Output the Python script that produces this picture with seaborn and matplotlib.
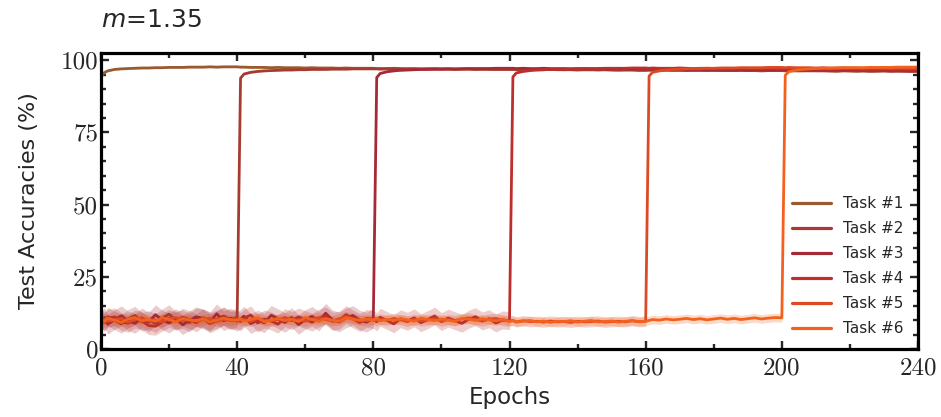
import numpy as np
import pandas as pd
import matplotlib
matplotlib.use("Agg")
import matplotlib.pyplot as plt
from matplotlib.lines import Line2D
from matplotlib.ticker import MultipleLocator
import seaborn as sns

# ---------------- data ----------------
TASKS = ["Task #1", "Task #2", "Task #3", "Task #4", "Task #5", "Task #6"]
TASK_START = [0, 40, 80, 120, 160, 200]
EPOCHS = sorted(set(range(0, 241, 2)) | {1, 41, 81, 121, 161, 201})

TASK1 = [94.3, 95.7, 96.3, 96.8, 97.0, 97.1, 97.2, 97.3, 97.3, 97.4, 97.4, 97.5, 97.5, 97.5, 97.6, 97.6, 97.6, 97.7, 97.6, 97.7, 97.7,
         97.7, 97.6, 97.6, 97.5, 97.5, 97.5, 97.4, 97.5, 97.4, 97.4, 97.4, 97.3, 97.4, 97.3, 97.3, 97.3, 97.2, 97.3, 97.2, 97.2, 97.2,
         97.2, 97.1, 97.1, 97.1, 97.2, 97.1, 97.0, 97.1, 97.0, 97.0, 97.1, 97.0, 97.0, 96.9, 97.0, 97.0, 96.9, 96.9, 97.0, 96.9, 96.9,
         96.9, 96.9, 96.8, 96.9, 96.8, 96.8, 96.9, 96.8, 96.8, 96.7, 96.8, 96.8, 96.7, 96.7, 96.8, 96.7, 96.7, 96.6, 96.7, 96.7, 96.6,
         96.6, 96.6, 96.7, 96.6, 96.6, 96.5, 96.6, 96.6, 96.5, 96.5, 96.6, 96.5, 96.5, 96.5, 96.4, 96.5, 96.5, 96.4, 96.5, 96.4, 96.4,
         96.4, 96.4, 96.5, 96.4, 96.4, 96.3, 96.4, 96.4, 96.3, 96.3, 96.4, 96.3, 96.3, 96.3, 96.2, 96.3, 96.3, 96.2, 96.3, 96.2, 96.2,
         96.2]
TASK2 = [10.8, 9.6, 11.2, 9.9, 8.7, 10.5, 11.6, 9.4, 10.1, 8.9, 10.7, 12.1, 9.8, 10.3, 9.2, 11.0, 10.6, 8.8, 9.9, 11.4, 10.2,
         10.9, 93.8, 95.2, 95.8, 96.1, 96.3, 96.4, 96.5, 96.6, 96.6, 96.7, 96.7, 96.8, 96.8, 96.8, 96.9, 96.9, 96.9, 97.0, 97.0, 97.0,
         97.0, 97.0, 96.9, 97.0, 97.0, 96.9, 97.0, 96.9, 96.9, 97.0, 96.9, 96.9, 96.9, 96.8, 96.9, 96.9, 96.8, 96.9, 96.8, 96.8, 96.8,
         96.8, 96.8, 96.8, 96.7, 96.8, 96.7, 96.7, 96.8, 96.7, 96.7, 96.7, 96.6, 96.7, 96.7, 96.6, 96.7, 96.6, 96.6, 96.6, 96.6, 96.5,
         96.5, 96.6, 96.5, 96.5, 96.6, 96.5, 96.5, 96.4, 96.5, 96.5, 96.4, 96.5, 96.4, 96.4, 96.4, 96.5, 96.4, 96.4, 96.3, 96.4, 96.4,
         96.4, 96.3, 96.4, 96.3, 96.3, 96.4, 96.3, 96.3, 96.3, 96.2, 96.3, 96.3, 96.2, 96.3, 96.2, 96.2, 96.3, 96.2, 96.2, 96.2, 96.1,
         96.2]
TASK3 = [9.4, 10.9, 8.6, 10.2, 11.5, 9.7, 8.9, 10.8, 9.3, 11.9, 10.1, 9.0, 10.6, 8.4, 9.9, 11.2, 10.4, 9.5, 12.2, 9.8, 10.7,
         9.6, 10.3, 11.4, 8.8, 10.0, 9.1, 11.7, 10.5, 9.2, 10.9, 8.5, 10.2, 11.3, 9.7, 12.4, 10.1, 9.4, 10.8, 11.6, 10.0, 9.3,
         10.6, 94.0, 95.4, 96.0, 96.3, 96.5, 96.6, 96.7, 96.8, 96.8, 96.9, 96.9, 97.0, 97.0, 97.0, 97.1, 97.1, 97.1, 97.1, 97.2, 97.2,
         97.2, 97.2, 97.1, 97.2, 97.1, 97.1, 97.2, 97.1, 97.1, 97.1, 97.0, 97.1, 97.1, 97.0, 97.0, 97.1, 97.0, 97.0, 97.0, 96.9, 97.0,
         97.0, 96.9, 96.9, 97.0, 96.9, 96.9, 96.9, 96.8, 96.9, 96.9, 96.8, 96.8, 96.9, 96.8, 96.8, 96.8, 96.7, 96.8, 96.8, 96.7, 96.7,
         96.7, 96.7, 96.8, 96.7, 96.7, 96.6, 96.7, 96.7, 96.6, 96.6, 96.7, 96.6, 96.6, 96.6, 96.5, 96.6, 96.6, 96.5, 96.6, 96.5, 96.5,
         96.5]
TASK4 = [10.3, 9.2, 10.7, 11.1, 9.5, 8.9, 10.4, 9.8, 8.1, 7.9, 9.3, 10.6, 9.7, 11.0, 10.2, 9.1, 10.8, 9.6, 10.3, 11.3, 9.9,
         10.1, 9.5, 10.6, 11.8, 9.0, 10.4, 9.7, 8.6, 10.9, 9.8, 11.1, 10.2, 9.3, 10.7, 11.5, 9.6, 10.0, 11.9, 10.4, 9.2, 10.6,
         10.3, 9.4, 11.0, 9.9, 8.7, 10.5, 9.6, 10.8, 9.1, 10.2, 11.4, 9.5, 10.7, 9.8, 8.9, 10.3, 11.2, 9.7, 10.5, 9.0, 10.1,
         9.8, 94.2, 95.6, 96.1, 96.4, 96.6, 96.7, 96.8, 96.9, 96.9, 97.0, 97.0, 97.1, 97.1, 97.1, 97.2, 97.2, 97.2, 97.2, 97.3, 97.3,
         97.3, 97.2, 97.3, 97.2, 97.2, 97.2, 97.3, 97.2, 97.1, 97.2, 97.2, 97.1, 97.1, 97.2, 97.1, 97.1, 97.1, 97.0, 97.1, 97.1, 97.0,
         97.0, 97.0, 97.1, 97.0, 97.0, 96.9, 97.0, 97.0, 96.9, 96.9, 97.0, 96.9, 96.9, 96.9, 96.8, 96.9, 96.9, 96.8, 96.9, 96.8, 96.8,
         96.8]
TASK5 = [9.9, 10.4, 9.6, 10.1, 10.6, 9.3, 10.2, 10.8, 9.7, 10.0, 9.4, 10.5, 10.9, 9.8, 10.3, 9.6, 10.1, 10.7, 9.5, 10.2, 9.9,
         10.4, 9.8, 10.2, 9.5, 10.6, 10.0, 9.7, 10.3, 10.8, 9.9, 10.1, 9.6, 10.4, 10.9, 10.2, 9.7, 10.5, 11.2, 10.6, 10.0, 9.8,
         10.2, 9.7, 10.4, 9.9, 10.6, 10.1, 9.5, 10.3, 9.8, 10.0, 10.5, 9.6, 10.2, 9.9, 10.4, 10.8, 10.1, 9.7, 10.3, 10.6, 9.9,
         9.7, 9.9, 9.4, 9.8, 9.5, 9.6, 9.3, 9.7, 9.4, 9.5, 9.2, 9.6, 9.4, 9.5, 9.7, 9.3, 9.5, 9.6, 9.4, 9.8, 9.5,
         9.6, 94.5, 95.8, 96.3, 96.6, 96.8, 96.9, 97.0, 97.1, 97.1, 97.2, 97.2, 97.3, 97.3, 97.3, 97.4, 97.4, 97.4, 97.4, 97.5, 97.5,
         97.5, 97.4, 97.5, 97.4, 97.4, 97.4, 97.3, 97.4, 97.3, 97.3, 97.4, 97.3, 97.3, 97.2, 97.3, 97.3, 97.2, 97.2, 97.3, 97.2, 97.2,
         97.2]
TASK6 = [10.1, 9.5, 10.7, 10.0, 9.2, 10.4, 10.9, 9.7, 10.3, 9.6, 10.8, 10.2, 9.4, 10.6, 10.0, 9.8, 10.5, 9.3, 10.1, 10.7, 10.2,
         9.9, 10.5, 9.6, 10.3, 10.8, 9.4, 10.1, 10.6, 9.8, 10.4, 9.5, 10.9, 10.2, 9.7, 10.5, 10.0, 9.6, 10.8, 10.3, 9.9, 10.4,
         10.0, 10.6, 9.7, 10.3, 9.9, 10.5, 10.1, 9.6, 10.7, 10.2, 9.8, 10.4, 10.0, 9.5, 10.6, 10.3, 9.9, 10.5, 10.1, 9.7, 10.3,
         9.5, 9.8, 9.3, 9.6, 9.9, 9.4, 9.7, 9.2, 9.6, 9.5, 9.8, 9.3, 9.6, 9.9, 9.4, 9.5, 9.7, 9.3, 9.6, 9.8, 9.4,
         9.6, 9.9, 10.2, 10.0, 10.4, 10.1, 10.3, 10.6, 10.2, 10.5, 10.1, 10.4, 10.7, 10.3, 10.6, 10.2, 10.5, 10.8, 10.4, 10.7, 10.9,
         10.8, 94.8, 96.0, 96.5, 96.8, 97.0, 97.1, 97.2, 97.2, 97.3, 97.3, 97.4, 97.4, 97.4, 97.5, 97.5, 97.5, 97.5, 97.6, 97.6, 97.6,
         97.6]
VALUES = [TASK1, TASK2, TASK3, TASK4, TASK5, TASK6]

# spread (std) of runs at chance level and after training
CHANCE_SD = [0.0, 3.2, 3.4, 3.1, 1.8, 1.5]
TRAINED_SD = [0.3, 0.3, 0.3, 0.3, 0.3, 0.3]

COLORS = ["#9b5a2e", "#a63b32", "#a52a36", "#bd2f2c", "#dc4a24", "#f3621c"]

XTICKS = [0, 40, 80, 120, 160, 200, 240]
YTICKS = [0, 25, 50, 75, 100]

# ---------------- plot ----------------
sns.set_style("ticks")
plt.rcParams["font.family"] = ["DejaVu Sans"]
plt.rcParams["mathtext.fontset"] = "dejavusans"

rows = []
for name, vals in zip(TASKS, VALUES):
    for e, v in zip(EPOCHS, vals):
        rows.append({"epoch": e, "acc": v, "task": name})
df = pd.DataFrame(rows)
palette = dict(zip(TASKS, COLORS))

fig = plt.figure(figsize=(9.41, 4.17), dpi=100)
ax = fig.add_axes([0.1073, 0.163, 0.8683, 0.710])

ep = np.array(EPOCHS)
for name, vals, start, csd, tsd, c in zip(TASKS, VALUES, TASK_START, CHANCE_SD, TRAINED_SD, COLORS):
    v = np.array(vals)
    if start == 0:
        sd = np.full_like(v, tsd)
    else:
        sd = np.where(ep > start, tsd, csd)
    ax.fill_between(ep, v - sd, v + sd, color=c, alpha=0.24, lw=0)

sns.lineplot(data=df, x="epoch", y="acc", hue="task", palette=palette,
             linewidth=2.0, errorbar=None, legend=False, ax=ax)

ax.set_xlim(0, 240)
ax.set_ylim(0, 102.5)
ax.set_xticks(XTICKS)
ax.set_yticks(YTICKS)
ax.xaxis.set_minor_locator(MultipleLocator(20))
ax.yaxis.set_minor_locator(MultipleLocator(5))
ax.tick_params(which="both", direction="in", top=True, right=True, width=1.7)
ax.tick_params(which="major", length=6)
ax.tick_params(which="minor", length=3.5)
ax.tick_params(axis="x", pad=6)
ax.tick_params(axis="y", pad=2)
for lab in ax.get_xticklabels() + ax.get_yticklabels():
    lab.set_fontfamily("cmr10")
    lab.set_fontsize(18)
for s in ax.spines.values():
    s.set_linewidth(2.3)
    s.set_color("black")

ax.set_xlabel("Epochs", fontsize=16.5)
ax.set_ylabel("Test Accuracies (%)", fontsize=16)
ax.xaxis.set_label_coords(0.5, -0.125)
ax.yaxis.set_label_coords(-0.076, 0.5)
ax.set_title(r"$m$=1.35", loc="left", fontsize=18, pad=19)

handles = [Line2D([0], [0], color=c, lw=2.3) for c in COLORS]
ax.legend(handles, TASKS, loc="lower right", bbox_to_anchor=(0.982, 0.044),
          frameon=False, fontsize=11, handlelength=2.5, handletextpad=0.8,
          labelspacing=0.65, borderaxespad=0, borderpad=0)

fig.savefig("out.png", dpi=100)
